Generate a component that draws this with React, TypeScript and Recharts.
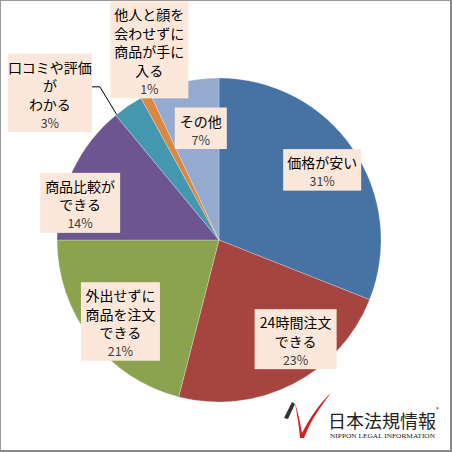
import React from 'react';
import { PieChart, Pie, Cell } from 'recharts';

// survey answers, clockwise from 12 o'clock
const categories = [
  '価格が安い',
  '24時間注文できる',
  '外出せずに商品を注文できる',
  '商品比較ができる',
  '口コミや評価がわかる',
  '他人と顔を会わせずに商品が手に入る',
  'その他',
];
const shares = [31, 23, 21, 14, 3, 1, 7];

// how each category name is broken inside its label box
const labelLines = [
  ['価格が安い'],
  ['24時間注文', 'できる'],
  ['外出せずに', '商品を注文', 'できる'],
  ['商品比較が', 'できる'],
  ['口コミや評価', 'が', 'わかる'],
  ['他人と顔を', '会わせずに', '商品が手に', '入る'],
  ['その他'],
];

const colors = ['#4672A4', '#A6443F', '#8BA34F', '#6C5591', '#4597AF', '#DA8741', '#94AACF'];

// label box placement: nudge from the point at 77% radius on the slice mid angle
const labelBox = [
  { dx: 0, dy: 0, w: 78 },
  { dx: 20, dy: -12, w: 82 },
  { dx: 0, dy: 5, w: 79 },
  { dx: -26, dy: 16, w: 80 },
  { dx: -99, dy: -44, w: 84, leader: true },
  { dx: -13, dy: -79, w: 78 },
  { dx: 9, dy: 10, w: 52 },
];

const data = categories.map((name, i) => ({ name, value: shares[i] }));

const RAD = Math.PI / 180;
const FONT = '"Noto Sans CJK JP", "Noto Sans", sans-serif';

const renderLabel = (props: any) => {
  const { cx, cy, midAngle, outerRadius, index, value } = props;
  const r = outerRadius * 0.77;
  const box = labelBox[index];
  const x = cx + r * Math.cos(-midAngle * RAD) + box.dx;
  const y = cy + r * Math.sin(-midAngle * RAD) + box.dy;
  const lines = [...labelLines[index], `${value}%`];
  const h = 23 + (lines.length - 1) * 18.5;
  const top = y - h / 2;
  const left = x - box.w / 2;

  let leader = null;
  if (box.leader) {
    const a = -(midAngle + 5) * RAD;
    const ex = cx + outerRadius * Math.cos(a);
    const ey = cy + outerRadius * Math.sin(a);
    const sx = left + box.w;
    const sy = y - 6;
    leader = (
      <polyline
        points={`${sx},${sy} ${sx + 8},${sy} ${ex},${ey}`}
        fill="none"
        stroke="#000"
        strokeWidth={1}
      />
    );
  }

  return (
    <g key={`lbl-${index}`}>
      {leader}
      <rect x={left} y={top} width={box.w} height={h} fill="#FCE8DA" />
      {lines.map((t, i) => {
        const isPct = i === lines.length - 1;
        return (
          <text
            key={i}
            x={x}
            y={top + 13 + i * 18.5}
            textAnchor="middle"
            dominantBaseline="central"
            fontFamily={FONT}
            fontSize={isPct ? 12.5 : 14}
            fill={isPct ? '#404040' : '#000'}
          >
            {t}
          </text>
        );
      })}
    </g>
  );
};

const Logo = () => (
  <svg
    width={452}
    height={452}
    style={{ position: 'absolute', left: 0, top: 0, pointerEvents: 'none' }}
  >
    <path d="M284,418 L292,402 L295,404 L288,419 Z" fill="#333" />
    <path
      d="M295,403 C298,412 300,422 302,433 C310,418 318,405 331,393 C320,407 311,420 304,438 L300,438 C299,426 297,414 295,403 Z"
      fill="#D42020"
    />
    <text x={328} y={428} fontFamily={FONT} fontSize={18} fill="#222">
      日本法規情報
    </text>
    <text x={436} y={412} fontFamily={FONT} fontSize={6} fill="#444">
      ®
    </text>
    <text
      x={330}
      y={438}
      fontFamily='"Liberation Serif", serif'
      fontSize={6}
      fill="#222"
      textLength={105}
      lengthAdjust="spacingAndGlyphs"
    >
      NIPPON LEGAL INFORMATION
    </text>
  </svg>
);

export default function App() {
  return (
    <div style={{ position: 'absolute', left: 0, top: 0, width: 452, height: 452, background: '#fff' }}>
      <PieChart width={452} height={452} margin={{ top: 0, right: 0, bottom: 0, left: 0 }}>
        <Pie
          data={data}
          dataKey="value"
          nameKey="name"
          cx={219}
          cy={240}
          outerRadius={162}
          startAngle={90}
          endAngle={-270}
          stroke="#ffffff"
          strokeWidth={0.5}
          strokeOpacity={0.5}
          label={renderLabel}
          labelLine={false}
          isAnimationActive={false}
        >
          {data.map((d, i) => (
            <Cell key={d.name} fill={colors[i]} />
          ))}
        </Pie>
      </PieChart>
      <Logo />
      <div
        style={{
          position: 'absolute',
          left: 0,
          top: 0,
          width: 452,
          height: 452,
          boxSizing: 'border-box',
          borderTop: '1px solid #999',
          borderLeft: '1px solid #999',
          borderRight: '2px solid #888',
          borderBottom: '2px solid #888',
          pointerEvents: 'none',
        }}
      />
    </div>
  );
}
